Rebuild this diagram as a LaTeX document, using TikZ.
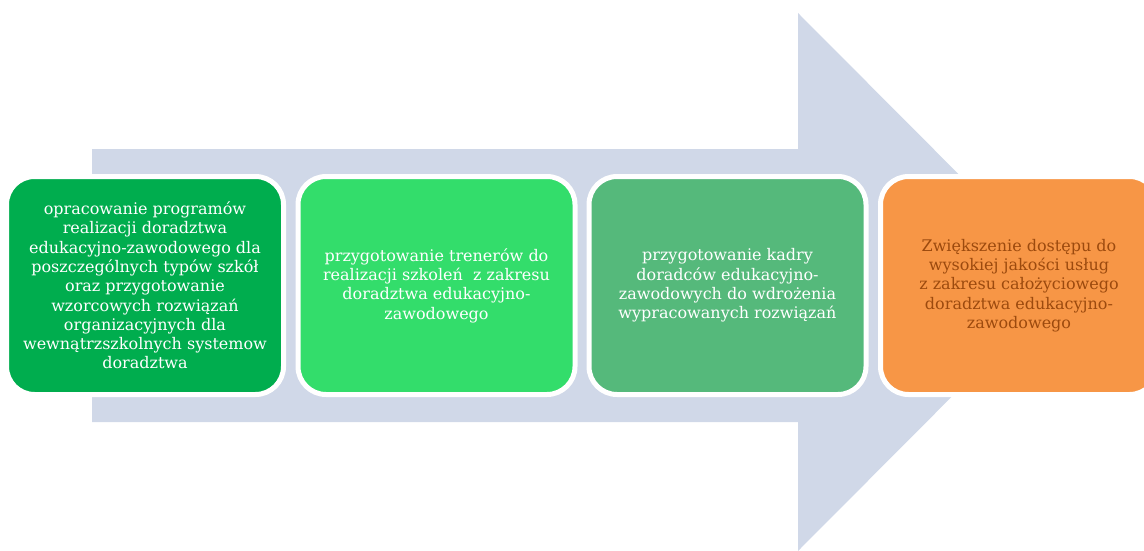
\documentclass[tikz,border=0pt]{standalone}
\usepackage{fontspec}
\setmainfont{DejaVu Serif}
\usepackage{xcolor}
\usetikzlibrary{positioning}

\definecolor{arrowgray}{HTML}{D0D8E8}
\definecolor{darkgreen}{HTML}{00AD4E}
\definecolor{brightgreen}{HTML}{33DD6B}
\definecolor{softgreen}{HTML}{55B97B}
\definecolor{orangefill}{HTML}{F79646}
\definecolor{orangetext}{HTML}{9C4A0E}

\begin{document}
\begin{tikzpicture}[
  x=1pt, y=-1pt,
  every node/.style={font=\fontsize{16}{19.3}\selectfont},
  stage/.style={draw=white, line width=5pt, rounded corners=28pt, minimum width=277pt, minimum height=218pt, align=center, inner sep=0pt, text=white}
]
\useasboundingbox (0,0) rectangle (1144,551);

% Background arrow
\fill[arrowgray] (92,149) -- (798,149) -- (798,13) -- (1066,282) -- (798,551) -- (798,422) -- (92,422) -- cycle;

% Stages
\node[stage, fill=darkgreen] (programs) at (145,285.5)
  {opracowanie programów\\realizacji doradztwa\\edukacyjno-zawodowego dla\\poszczególnych typów szkół\\oraz przygotowanie\\wzorcowych rozwiązań\\organizacyjnych dla\\wewnątrzszkolnych systemow\\doradztwa};
\node[stage, fill=brightgreen] (trainers) at (436.5,285.5)
  {przygotowanie trenerów do\\realizacji szkoleń\ \ z zakresu\\doradztwa edukacyjno-\\zawodowego};
\node[stage, fill=softgreen] (advisors) at (727.5,285.5)
  {przygotowanie kadry\\doradców edukacyjno-\\zawodowych do wdrożenia\\wypracowanych rozwiązań};

% Outcome
\node[stage, fill=orangefill, text=orangetext] (outcome) at (1019,285.5)
  {Zwiększenie dostępu do\\wysokiej jakości usług\\z zakresu całożyciowego\\doradztwa edukacyjno-\\zawodowego};

\end{tikzpicture}
\end{document}
